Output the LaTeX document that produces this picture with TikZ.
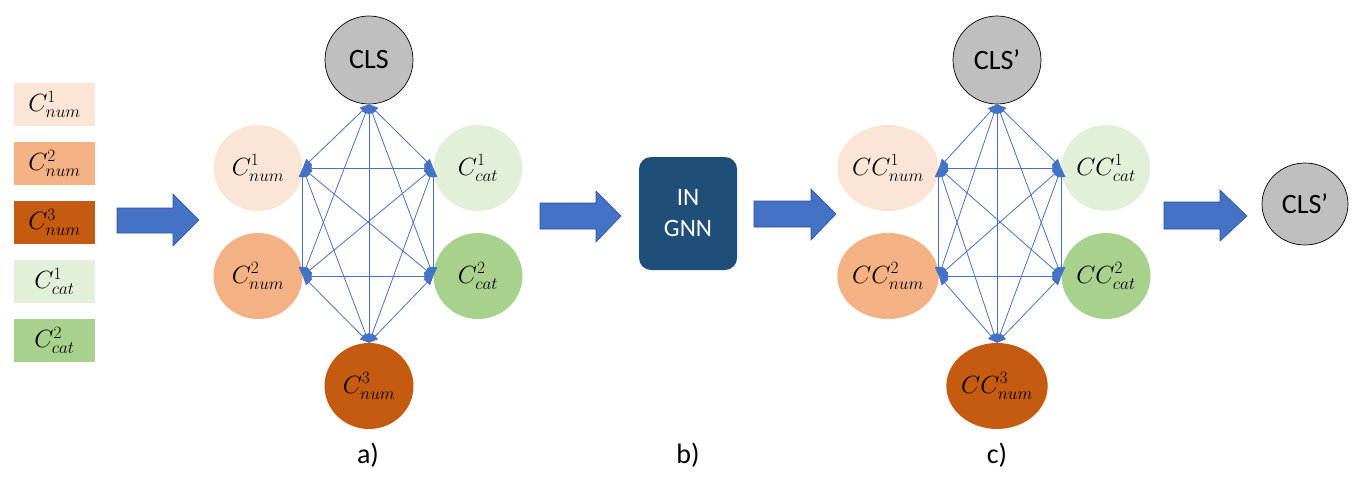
\documentclass[tikz,border=0pt]{standalone}
\usepackage{fontspec}
\setmainfont{Carlito}
\usetikzlibrary{arrows.meta,shapes.geometric}
\definecolor{cnumA}{HTML}{FBE5D6}
\definecolor{cnumB}{HTML}{F4B183}
\definecolor{cnumC}{HTML}{C55A11}
\definecolor{ccatA}{HTML}{E2F0D9}
\definecolor{ccatB}{HTML}{A9D18E}
\definecolor{clsgray}{HTML}{BFBFBF}
\definecolor{linkblue}{HTML}{4472C4}
\definecolor{linkdark}{HTML}{2F528F}
\definecolor{gnnblue}{HTML}{1F4E79}
\tikzset{
  x=1pt, y=-1pt,
  legbox/.style={draw=none, minimum width=81pt, minimum height=43pt, inner sep=0pt, font=\fontsize{25}{28}\selectfont},
  feat/.style={ellipse, draw=none, minimum width=89pt, minimum height=86pt, inner sep=0pt, font=\fontsize{25}{28}\selectfont},
  clsnode/.style={circle, draw=black, line width=0.7pt, fill=clsgray, minimum size=88pt, inner sep=0pt, font=\fontsize{28}{32}\selectfont},
  link/.style={draw=linkblue, line width=0.8pt, {Triangle[length=9pt,width=8pt]}-{Triangle[length=9pt,width=8pt]}},
  bigarrow/.style={fill=linkblue, draw=linkdark, line width=0.6pt},
  lbl/.style={font=\fontsize{28}{32}\selectfont, inner sep=0pt},
}
\begin{document}
\begin{tikzpicture}
\useasboundingbox (0,0) rectangle (1355,480);
% legend boxes
\node[legbox, fill=cnumA] (l1) at (54.5,104.5) {$C^1_{num}$};
\node[legbox, fill=cnumB] (l2) at (54.5,163.5) {$C^2_{num}$};
\node[legbox, fill=cnumC] (l3) at (54.5,222.5) {$C^3_{num}$};
\node[legbox, fill=ccatA] (l4) at (54.5,281.5) {$C^1_{cat}$};
\node[legbox, fill=ccatB] (l5) at (54.5,340.5) {$C^2_{cat}$};
% big arrows
\draw[bigarrow] (117,208) -- (173,208) -- (173,194) -- (199,220) -- (173,246) -- (173,233) -- (117,233) -- cycle;
\draw[bigarrow] (540,203) -- (596,203) -- (596,191) -- (621,216) -- (596,242) -- (596,229) -- (540,229) -- cycle;
\draw[bigarrow] (754,201) -- (811,201) -- (811,189) -- (836,214) -- (811,240) -- (811,227) -- (754,227) -- cycle;
\draw[bigarrow] (1164,202) -- (1220,202) -- (1220,190) -- (1247,216) -- (1220,241) -- (1220,229) -- (1164,229) -- cycle;
% graph a
\node[clsnode] (acls) at (369,60) {CLS};
\node[feat, fill=cnumA] (an1) at (258,168) {$C^1_{num}$};
\node[feat, fill=cnumB] (an2) at (258,276) {$C^2_{num}$};
\node[feat, fill=cnumC] (an3) at (369,386) {$C^3_{num}$};
\node[feat, fill=ccatA] (ac1) at (478,168) {$C^1_{cat}$};
\node[feat, fill=ccatB] (ac2) at (478,276) {$C^2_{cat}$};
\foreach \a/\b in {acls.south/an1.east, acls.south/an2.east, acls.south/an3.north, acls.south/ac1.west, acls.south/ac2.west,
  an1.east/an2.east, an1.east/an3.north, an1.east/ac1.west, an1.east/ac2.west,
  an2.east/an3.north, an2.east/ac1.west, an2.east/ac2.west,
  an3.north/ac1.west, an3.north/ac2.west, ac1.west/ac2.west}
  \draw[link] (\a) -- (\b);
% b
\node[draw=none, fill=gnnblue, rounded corners=12pt, minimum width=98pt, minimum height=113pt, text=white, align=center, font=\fontsize{25}{31}\selectfont] (gnn) at (688,213.5) {IN\\GNN};
% graph c
\node[clsnode] (ccls) at (997,60) {CLS’};
\node[feat, fill=cnumA] (cn1) at (888,168) {$CC^1_{num}$};
\node[feat, fill=cnumB] (cn2) at (888,276) {$CC^2_{num}$};
\node[feat, fill=cnumC] (cn3) at (997,386) {$CC^3_{num}$};
\node[feat, fill=ccatA] (cc1) at (1106,168) {$CC^1_{cat}$};
\node[feat, fill=ccatB] (cc2) at (1106,276) {$CC^2_{cat}$};
\foreach \a/\b in {ccls.south/cn1.east, ccls.south/cn2.east, ccls.south/cn3.north, ccls.south/cc1.west, ccls.south/cc2.west,
  cn1.east/cn2.east, cn1.east/cn3.north, cn1.east/cc1.west, cn1.east/cc2.west,
  cn2.east/cn3.north, cn2.east/cc1.west, cn2.east/cc2.west,
  cn3.north/cc1.west, cn3.north/cc2.west, cc1.west/cc2.west}
  \draw[link] (\a) -- (\b);
% output
\node[clsnode, ellipse, minimum width=86pt, minimum height=82pt] (out) at (1305,204) {CLS’};
% labels
\node[lbl] (la) at (368,455) {a)};
\node[lbl] (lb) at (688,455) {b)};
\node[lbl] (lc) at (997,455) {c)};
\end{tikzpicture}
\end{document}
